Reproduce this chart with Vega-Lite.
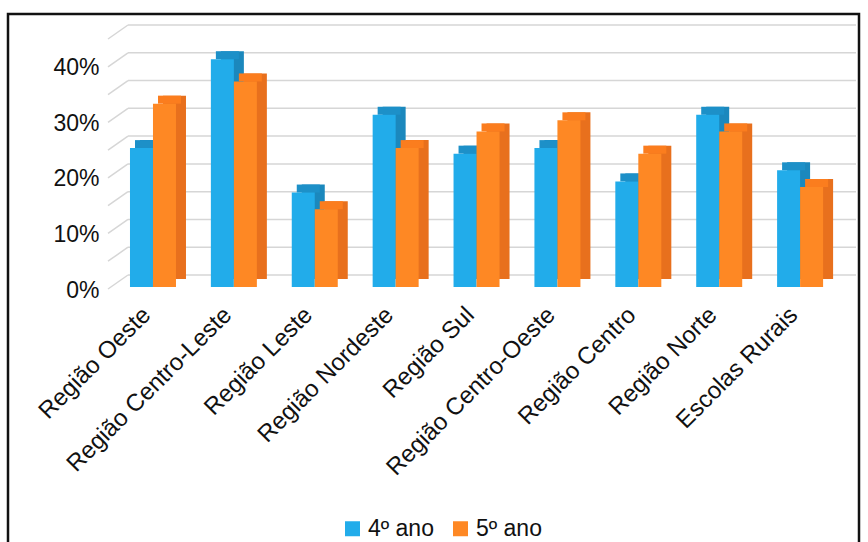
{
  "$schema": "https://vega.github.io/schema/vega-lite/v6.json",
  "width": 728,
  "height": 250,
  "autosize": {"type": "none"},
  "padding": {"left": 108, "top": 37, "right": 32, "bottom": 255},
  "background": "white",
  "config": {"view": {"stroke": null}, "font": "Liberation Sans"},
  "datasets": {
    "bars": [
      {"region": "Região Oeste", "serie": "4º ano", "v": 0.25},
      {"region": "Região Oeste", "serie": "5º ano", "v": 0.33},
      {"region": "Região Centro-Leste", "serie": "4º ano", "v": 0.41},
      {"region": "Região Centro-Leste", "serie": "5º ano", "v": 0.37},
      {"region": "Região Leste", "serie": "4º ano", "v": 0.17},
      {"region": "Região Leste", "serie": "5º ano", "v": 0.14},
      {"region": "Região Nordeste", "serie": "4º ano", "v": 0.31},
      {"region": "Região Nordeste", "serie": "5º ano", "v": 0.25},
      {"region": "Região Sul", "serie": "4º ano", "v": 0.24},
      {"region": "Região Sul", "serie": "5º ano", "v": 0.28},
      {"region": "Região Centro-Oeste", "serie": "4º ano", "v": 0.25},
      {"region": "Região Centro-Oeste", "serie": "5º ano", "v": 0.30},
      {"region": "Região Centro", "serie": "4º ano", "v": 0.19},
      {"region": "Região Centro", "serie": "5º ano", "v": 0.24},
      {"region": "Região Norte", "serie": "4º ano", "v": 0.31},
      {"region": "Região Norte", "serie": "5º ano", "v": 0.28},
      {"region": "Escolas Rurais", "serie": "4º ano", "v": 0.21},
      {"region": "Escolas Rurais", "serie": "5º ano", "v": 0.18}
    ],
    "grid": [
      {"v": 0}, {"v": 0.05}, {"v": 0.1}, {"v": 0.15}, {"v": 0.2},
      {"v": 0.25}, {"v": 0.3}, {"v": 0.35}, {"v": 0.4}, {"v": 0.45}
    ],
    "frame": [{"k": 1}]
  },
  "layer": [
    {
      "data": {"name": "frame"},
      "mark": {"type": "rect", "fill": null, "stroke": "#111111", "strokeWidth": 2.5},
      "encoding": {
        "x": {"value": -100}, "x2": {"value": 751},
        "y": {"value": -23}, "y2": {"value": 600}
      }
    },
    {
      "data": {"name": "grid"},
      "mark": {"type": "rule", "color": "#d6d6d6", "strokeWidth": 1.5, "yOffset": -12},
      "encoding": {
        "y": {
          "field": "v", "type": "quantitative",
          "scale": {"domain": [0, 0.45], "nice": false, "zero": true},
          "axis": {
            "values": [0, 0.1, 0.2, 0.3, 0.4], "format": ".0%", "title": null,
            "grid": false, "domain": false, "ticks": false,
            "labelFontSize": 23, "labelPadding": 9, "labelOffset": 3, "labelColor": "#111111"
          }
        },
        "x": {"value": 20}, "x2": {"value": 748}
      }
    },
    {
      "data": {"name": "grid"},
      "mark": {"type": "rule", "color": "#d6d6d6", "strokeWidth": 1.5, "yOffset": 2, "y2Offset": -12},
      "encoding": {
        "y": {"field": "v", "type": "quantitative", "title": null},
        "y2": {"field": "v"},
        "x": {"value": 0}, "x2": {"value": 20}
      }
    },
    {
      "data": {"name": "bars"},
      "encoding": {
        "x": {
          "field": "region", "type": "nominal",
          "sort": ["Região Oeste", "Região Centro-Leste", "Região Leste", "Região Nordeste", "Região Sul", "Região Centro-Oeste", "Região Centro", "Região Norte", "Escolas Rurais"],
          "scale": {"paddingInner": 0.4314, "paddingOuter": 0.2157, "align": 0.63},
          "axis": {
            "title": null, "labelAngle": -45, "labelAlign": "right", "labelBaseline": "middle",
            "labelFontSize": 24, "labelColor": "#111111", "domain": false, "ticks": false,
            "labelPadding": 24, "labelOffset": -6, "labelLimit": 400
          }
        },
        "y": {"field": "v", "type": "quantitative", "title": null}
      },
      "layer": [
        {
          "mark": {"type": "bar", "yOffset": -8, "y2Offset": -8},
          "encoding": {
            "xOffset": {"field": "serie", "type": "nominal", "sort": ["4º ano", "5º ano"], "scale": {"range": [10, 56], "paddingInner": 0, "paddingOuter": 0}},
            "color": {"condition": {"test": "datum.serie == '4º ano'", "value": "#1b88bd"}, "value": "#e8701d"}
          }
        },
        {
          "mark": {"type": "bar", "yOffset": -8, "y2Offset": 0},
          "encoding": {
            "xOffset": {"field": "serie", "type": "nominal", "sort": ["4º ano", "5º ano"], "scale": {"range": [5, 51], "paddingInner": 0, "paddingOuter": 0}},
            "y2": {"field": "v"},
            "color": {"condition": {"test": "datum.serie == '4º ano'", "value": "#1d90c8"}, "value": "#fb7d1e"}
          }
        },
        {
          "mark": {"type": "bar"},
          "encoding": {
            "xOffset": {"field": "serie", "type": "nominal", "sort": ["4º ano", "5º ano"], "scale": {"range": [0, 46], "paddingInner": 0, "paddingOuter": 0}},
            "color": {
              "field": "serie", "type": "nominal",
              "scale": {"domain": ["4º ano", "5º ano"], "range": ["#22acea", "#fe8824"]},
              "legend": {
                "title": null, "orient": "none", "direction": "horizontal",
                "legendX": 233, "legendY": 480, "symbolType": "square", "symbolSize": 225,
                "symbolStrokeWidth": 0, "labelFontSize": 23, "labelOffset": 4,
                "columnPadding": 15, "labelColor": "#111111"
              }
            }
          }
        }
      ],
      "resolve": {"scale": {"xOffset": "independent"}}
    }
  ]
}
